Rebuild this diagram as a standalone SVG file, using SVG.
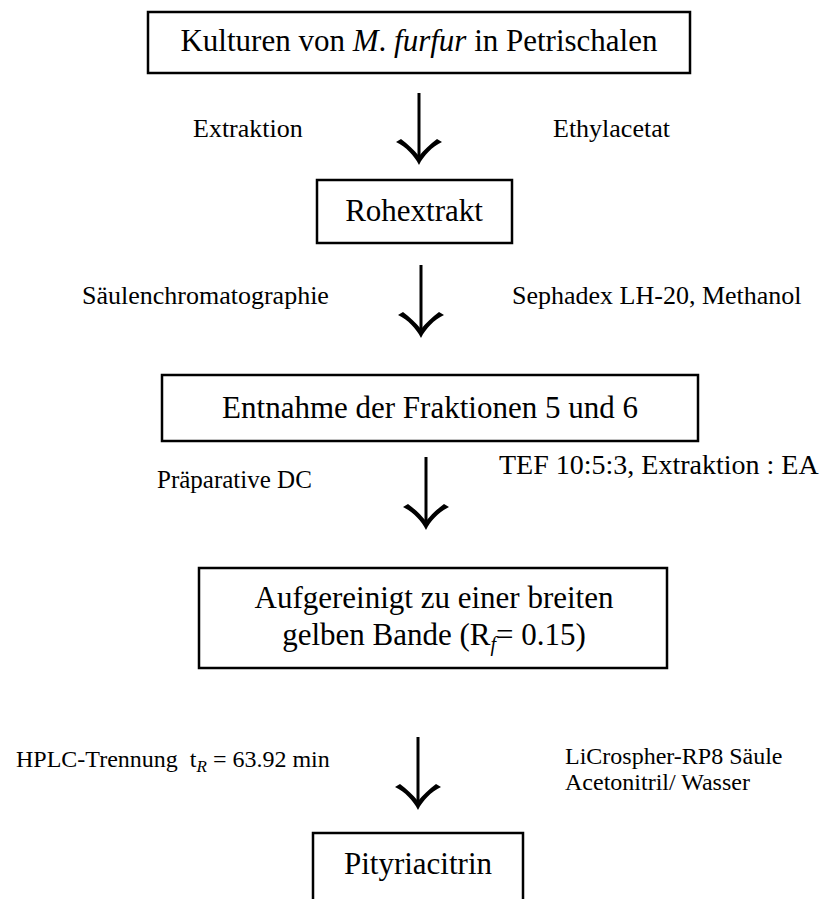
<svg xmlns="http://www.w3.org/2000/svg" width="835" height="899" viewBox="0 0 835 899">
<defs>
<style>
.box{fill:#fff;stroke:#000;stroke-width:2.5}
text{font-family:'Liberation Serif','Times New Roman',serif;fill:#000}
.bt{font-size:31px;text-anchor:middle}
.lb{font-size:26px}
.ls{font-size:24px}
.shaft{stroke:#000;stroke-width:3;fill:none}
</style>
<path id="head" d="M0,0 C-5,-10 -13,-18 -23,-23 L-18,-26 C-11,-21 -5,-15 0,-9 C5,-15 11,-21 18,-26 L23,-23 C13,-18 5,-10 0,0 Z" fill="#000"/>
</defs>

<g id="connectors">
<line class="shaft" x1="419" y1="93" x2="419" y2="158"/>
<use href="#head" x="419" y="165"/>
<line class="shaft" x1="421" y1="265" x2="421" y2="331"/>
<use href="#head" x="421" y="338"/>
<line class="shaft" x1="426" y1="457" x2="426" y2="523"/>
<use href="#head" x="426" y="530"/>
<line class="shaft" x1="418" y1="737" x2="418" y2="803"/>
<use href="#head" x="418" y="810"/>
</g>

<g id="n1">
<rect class="box" x="148" y="12" width="542" height="61"/>
<text class="bt" x="419" y="51">Kulturen von <tspan font-style="italic">M</tspan>. <tspan font-style="italic">furfur</tspan> in Petrischalen</text>
</g>
<g id="l1">
<text class="lb" x="193" y="137">Extraktion</text>
<text class="lb" x="553" y="137">Ethylacetat</text>
</g>

<g id="n2">
<rect class="box" x="317" y="180" width="195" height="63"/>
<text class="bt" x="414" y="221">Rohextrakt</text>
</g>
<g id="l2">
<text class="lb" x="82" y="304">Säulenchromatographie</text>
<text class="lb" x="512" y="304">Sephadex LH-20, Methanol</text>
</g>

<g id="n3">
<rect class="box" x="162" y="375" width="536" height="66"/>
<text class="bt" x="430" y="418">Entnahme der Fraktionen 5 und 6</text>
</g>
<g id="l3">
<text x="157" y="488" font-size="25">Präparative DC</text>
<text x="499" y="474" font-size="28">TEF 10:5:3, Extraktion : EA</text>
</g>

<g id="n4">
<rect class="box" x="199" y="568" width="468" height="100"/>
<text class="bt" x="434" y="608">Aufgereinigt zu einer breiten</text>
<text class="bt" x="434" y="645">gelben Bande (R<tspan font-style="italic" font-size="20" dy="6">f</tspan><tspan dy="-6">= 0.15)</tspan></text>
</g>
<g id="l4">
<text class="ls" x="16" y="767">HPLC-Trennung <tspan dx="6">t</tspan><tspan font-style="italic" font-size="17" dy="5">R</tspan><tspan dy="-5"> = 63.92 min</tspan></text>
<text class="ls" x="565" y="764">LiCrospher-RP8 Säule</text>
<text class="ls" x="565" y="790">Acetonitril/ Wasser</text>
</g>

<g id="n5">
<rect class="box" x="313" y="833" width="210" height="80"/>
<text class="bt" x="418" y="874">Pityriacitrin</text>
</g>
</svg>
